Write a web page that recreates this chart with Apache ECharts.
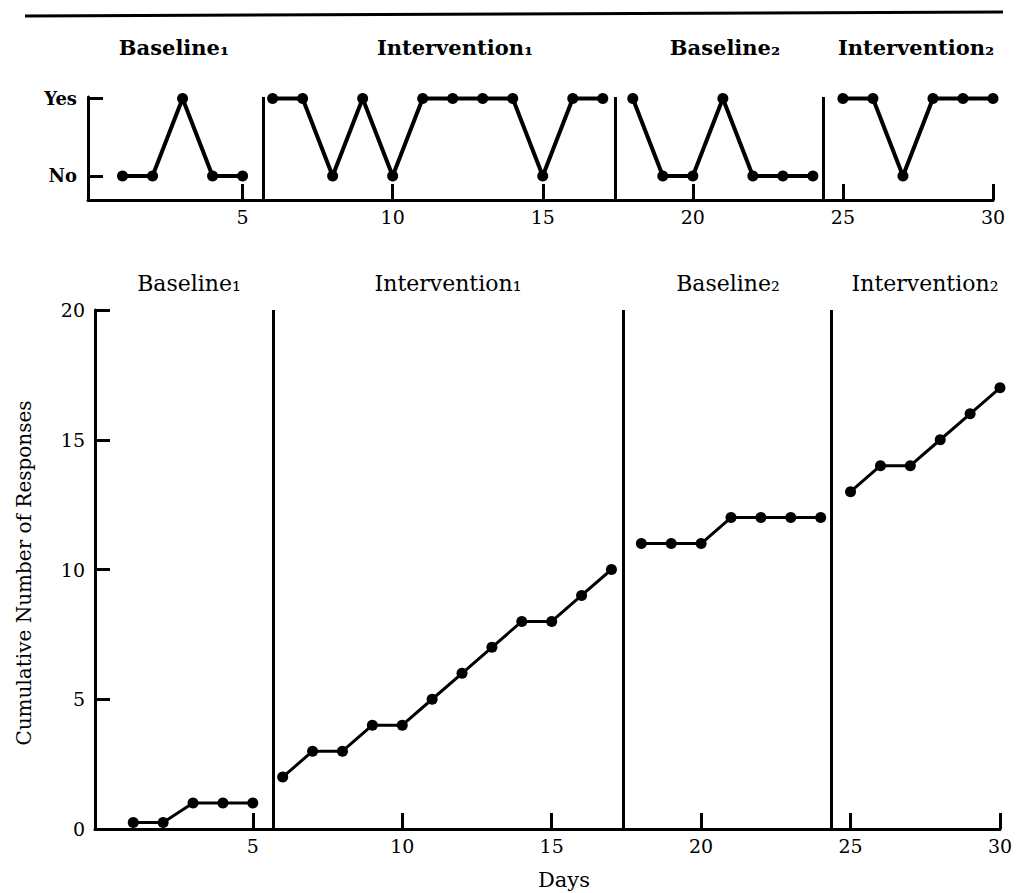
<!DOCTYPE html>
<html>
<head>
<meta charset="utf-8">
<script src="https://cdn.jsdelivr.net/npm/echarts@6/dist/echarts.min.js"></script>
<style>html,body{margin:0;padding:0;background:#fff;}#chart{width:1018px;height:893px;}</style>
</head>
<body>
<div id="chart"></div>
<script>
// ---- data ----
const phaseNames = ['Baseline\u2081', 'Intervention\u2081', 'Baseline\u2082', 'Intervention\u2082'];
const phaseDays = [
  [1, 2, 3, 4, 5],
  [6, 7, 8, 9, 10, 11, 12, 13, 14, 15, 16, 17],
  [18, 19, 20, 21, 22, 23, 24],
  [25, 26, 27, 28, 29, 30]
];
const dailyResponse = [          // 1 = Yes, 0 = No
  [0, 0, 1, 0, 0],
  [1, 1, 0, 1, 0, 1, 1, 1, 1, 0, 1, 1],
  [1, 0, 0, 1, 0, 0, 0],
  [1, 1, 0, 1, 1, 1]
];
const cumulativeResponses = [
  [0.25, 0.25, 1, 1, 1],
  [2, 3, 3, 4, 4, 5, 6, 7, 8, 8, 9, 10],
  [11, 11, 11, 12, 12, 12, 12],
  [13, 14, 14, 15, 16, 17]
];
const phaseChanges = [5.7, 17.4, 24.35];
const dayTicks = [5, 10, 15, 20, 25, 30];
const yesNoValues = [0, 1];
const yesNoLabels = ['No', 'Yes'];

// ---- chart ----
const FONT = 'DejaVu Serif';
const chart = echarts.init(document.getElementById('chart'), null, { renderer: 'svg' });

function pairs(days, vals) { return days.map((d, i) => [d, vals[i]]); }

const phaseMarkLine = {
  silent: true,
  symbol: 'none',
  label: { show: false },
  lineStyle: { color: '#000', width: 3, type: 'solid' },
  data: phaseChanges.map(v => ({ xAxis: v }))
};

const series = [];
phaseDays.forEach((days, p) => {
  series.push({
    type: 'line', xAxisIndex: 0, yAxisIndex: 0,
    data: pairs(days, dailyResponse[p]),
    symbol: 'circle', symbolSize: 11,
    lineStyle: { color: '#000', width: 4 },
    itemStyle: { color: '#000' },
    markLine: p === 0 ? phaseMarkLine : undefined
  });
  series.push({
    type: 'line', xAxisIndex: 1, yAxisIndex: 1,
    data: pairs(days, cumulativeResponses[p]),
    symbol: 'circle', symbolSize: 11,
    lineStyle: { color: '#000', width: 3 },
    itemStyle: { color: '#000' },
    markLine: p === 0 ? phaseMarkLine : undefined
  });
});

const axisLineStyle = { show: true, onZero: false, lineStyle: { color: '#000', width: 3 } };
const tickStyle = { lineStyle: { color: '#000', width: 3 } };

const topLabelX = [174, 455, 725, 916];
const bottomLabelX = [189, 448, 728, 925];

const graphics = [
  { type: 'line', shape: { x1: 25, y1: 16, x2: 1003, y2: 12 }, style: { stroke: '#000', lineWidth: 3 } }
];
phaseNames.forEach((name, i) => {
  graphics.push({ type: 'text', x: topLabelX[i], y: 47,
    style: { text: name, fill: '#000', font: 'bold 21px "' + FONT + '"', textAlign: 'center', textVerticalAlign: 'middle' } });
  graphics.push({ type: 'text', x: bottomLabelX[i], y: 283,
    style: { text: name, fill: '#000', font: '22px "' + FONT + '"', textAlign: 'center', textVerticalAlign: 'middle' } });
});
graphics.push({ type: 'text', x: 24, y: 573, rotation: Math.PI / 2,
  style: { text: 'Cumulative Number of Responses', fill: '#000', font: '20px "' + FONT + '"', textAlign: 'center', textVerticalAlign: 'middle' } });
graphics.push({ type: 'text', x: 564, y: 880,
  style: { text: 'Days', fill: '#000', font: '21px "' + FONT + '"', textAlign: 'center', textVerticalAlign: 'middle' } });

chart.setOption({
  animation: false,
  backgroundColor: '#fff',
  grid: [
    { left: 88, right: 25, top: 97, bottom: 693 },
    { left: 95, right: 18, top: 310, bottom: 64 }
  ],
  xAxis: [
    {
      gridIndex: 0, type: 'value', min: -0.15, max: 30,
      axisLine: axisLineStyle,
      axisTick: Object.assign({ show: true, inside: true, length: 16, customValues: dayTicks }, tickStyle),
      axisLabel: { customValues: dayTicks, color: '#000', fontFamily: FONT, fontSize: 19, margin: 7 },
      splitLine: { show: false }
    },
    {
      gridIndex: 1, type: 'value', min: -0.28, max: 30,
      axisLine: axisLineStyle,
      axisTick: Object.assign({ show: true, inside: true, length: 16, customValues: dayTicks }, tickStyle),
      axisLabel: { customValues: dayTicks, color: '#000', fontFamily: FONT, fontSize: 19, margin: 7 },
      splitLine: { show: false }
    }
  ],
  yAxis: [
    {
      gridIndex: 0, type: 'value', min: -0.31, max: 1.02,
      axisLine: axisLineStyle,
      axisTick: Object.assign({ show: true, inside: true, length: 15, customValues: yesNoValues }, tickStyle),
      axisLabel: { customValues: yesNoValues, formatter: v => yesNoLabels[Math.round(v)],
        color: '#000', fontFamily: FONT, fontSize: 18, fontWeight: 'bold', margin: 11 },
      splitLine: { show: false }
    },
    {
      gridIndex: 1, type: 'value', min: 0, max: 20, interval: 5,
      axisLine: axisLineStyle,
      axisTick: Object.assign({ show: true, inside: true, length: 15 }, tickStyle),
      axisLabel: { color: '#000', fontFamily: FONT, fontSize: 19, margin: 10 },
      splitLine: { show: false }
    }
  ],
  series: series,
  graphic: graphics
});
</script>
</body>
</html>
